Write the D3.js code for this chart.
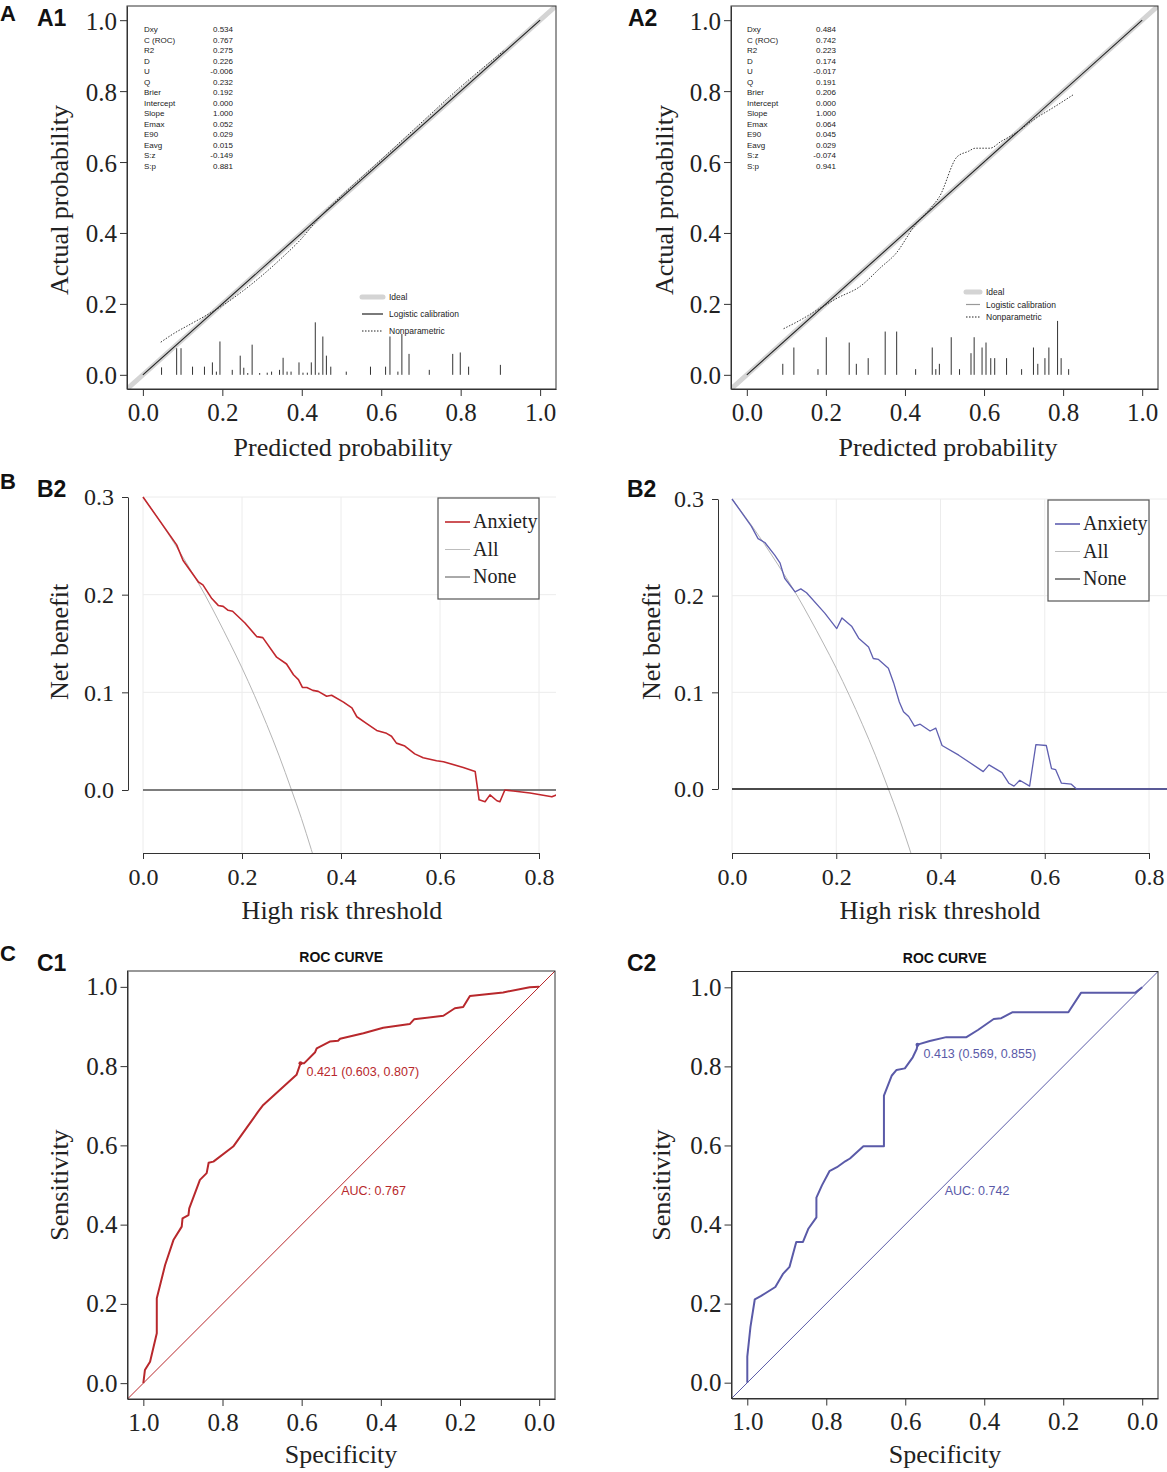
<!DOCTYPE html>
<html>
<head>
<meta charset="utf-8">
<script src="https://cdn.jsdelivr.net/npm/d3@7"></script>
<style>
body { margin:0; background:#fff; }
</style>
</head>
<body>
<script>

// ---------- values ----------

// calibration statistics (A1 / A2)
var statNames = ["Dxy","C (ROC)","R2","D","U","Q","Brier","Intercept","Slope","Emax","E90","Eavg","S:z","S:p"];
var statsA1 = ["0.534","0.767","0.275","0.226","-0.006","0.232","0.192","0.000","1.000","0.052","0.029","0.015","-0.149","0.881"];
var statsA2 = ["0.484","0.742","0.223","0.174","-0.017","0.191","0.206","0.000","1.000","0.064","0.045","0.029","-0.074","0.941"];

// spike histogram of predicted probabilities [p, height]
var rugA1 = [[0.047,0.021],[0.085,0.075],[0.096,0.075],[0.125,0.023],[0.155,0.023],[0.175,0.035],[0.185,0.009],
  [0.194,0.094],[0.225,0.014],[0.245,0.054],[0.254,0.020],[0.264,0.005],[0.275,0.085],[0.294,0.005],[0.313,0.006],
  [0.324,0.009],[0.344,0.014],[0.353,0.048],[0.363,0.009],[0.373,0.009],[0.393,0.035],[0.403,0.006],[0.414,0.006],
  [0.424,0.035],[0.434,0.148],[0.443,0.006],[0.453,0.108],[0.462,0.054],[0.473,0.023],[0.512,0.009],[0.573,0.023],
  [0.611,0.023],[0.622,0.108],[0.642,0.009],[0.652,0.115],[0.670,0.059],[0.721,0.014],[0.780,0.059],[0.799,0.063],
  [0.820,0.023],[0.900,0.028]];
var rugA2 = [[0.091,0.031],[0.119,0.077],[0.180,0.016],[0.201,0.106],[0.259,0.091],[0.277,0.031],[0.307,0.047],
  [0.350,0.122],[0.379,0.122],[0.427,0.016],[0.469,0.077],[0.478,0.016],[0.487,0.031],[0.517,0.106],[0.538,0.016],
  [0.567,0.061],[0.575,0.106],[0.595,0.077],[0.605,0.091],[0.617,0.047],[0.627,0.047],[0.657,0.047],[0.695,0.016],
  [0.725,0.077],[0.736,0.031],[0.754,0.047],[0.764,0.077],[0.786,0.152],[0.795,0.047],[0.814,0.016]];

// nonparametric (loess) calibration curves [predicted, actual]
var npA1 = [[0.045,0.092],[0.08,0.118],[0.12,0.143],[0.16,0.168],[0.2,0.195],[0.25,0.235],[0.3,0.28],[0.35,0.33],
  [0.4,0.385],[0.43,0.425],[0.46,0.462],[0.5,0.505],[0.6,0.607],[0.7,0.71],[0.8,0.812],[0.91,0.915]];
var npA2 = [[0.093,0.130],[0.138,0.156],[0.184,0.187],[0.23,0.217],[0.285,0.248],[0.34,0.304],[0.377,0.342],
  [0.423,0.418],[0.468,0.474],[0.487,0.502],[0.532,0.615],[0.56,0.63],[0.578,0.639],[0.615,0.639],[0.643,0.658],
  [0.679,0.681],[0.725,0.719],[0.78,0.757],[0.826,0.79]];
// logistic calibration line end points
var logisticLine = [[0,0],[1,1]];

// decision curves [threshold, net benefit]
var dcaLeft = [[0,0.300],[0.068,0.251],[0.081,0.235],[0.112,0.213],[0.121,0.210],[0.139,0.196],[0.152,0.189],
  [0.162,0.188],[0.172,0.184],[0.181,0.183],[0.206,0.171],[0.230,0.157],[0.242,0.156],[0.270,0.136],[0.290,0.129],
  [0.304,0.118],[0.314,0.113],[0.322,0.105],[0.331,0.105],[0.343,0.102],[0.354,0.101],[0.371,0.096],[0.381,0.097],
  [0.405,0.090],[0.422,0.084],[0.432,0.075],[0.452,0.068],[0.472,0.061],[0.492,0.058],[0.502,0.055],[0.512,0.048],
  [0.529,0.045],[0.549,0.037],[0.566,0.033],[0.593,0.030],[0.607,0.029],[0.647,0.023],[0.671,0.019],[0.679,-0.010],
  [0.691,-0.012],[0.701,-0.005],[0.715,-0.011],[0.721,-0.012],[0.731,0.000],[0.748,-0.001],[0.782,-0.003],
  [0.826,-0.007],[0.835,-0.005]];
var dcaRight = [[0,0.300],[0.037,0.272],[0.050,0.259],[0.063,0.255],[0.082,0.242],[0.092,0.234],[0.101,0.218],
  [0.121,0.204],[0.132,0.207],[0.143,0.203],[0.178,0.182],[0.201,0.166],[0.211,0.177],[0.230,0.168],[0.243,0.156],
  [0.262,0.147],[0.271,0.135],[0.281,0.134],[0.300,0.125],[0.310,0.110],[0.321,0.090],[0.329,0.080],[0.339,0.075],
  [0.350,0.065],[0.361,0.067],[0.380,0.060],[0.391,0.063],[0.403,0.045],[0.435,0.035],[0.482,0.018],[0.493,0.025],
  [0.518,0.017],[0.531,0.006],[0.541,0.003],[0.552,0.009],[0.571,0.003],[0.583,0.046],[0.603,0.045],[0.613,0.021],
  [0.621,0.020],[0.632,0.006],[0.651,0.005],[0.661,0.000],[0.840,0.000]];
// "treat all" curve
var dcaAll = [[0,0.300],[0.025,0.282],[0.05,0.263],[0.075,0.243],[0.1,0.222],[0.125,0.200],[0.15,0.176],
  [0.175,0.151],[0.2,0.125],[0.225,0.097],[0.25,0.067],[0.275,0.035],[0.3,0.000],[0.32,-0.029],[0.34,-0.061],[0.36,-0.094]];
var dcaNone = [[0,0],[0.84,0]];
var dcaLegend = ["Anxiety","All","None"];

// ROC curves [specificity, sensitivity]
var rocC1 = [[1.0,0.0],[0.996,0.033],[0.983,0.054],[0.966,0.126],[0.966,0.214],[0.945,0.298],[0.924,0.361],
  [0.903,0.395],[0.901,0.416],[0.886,0.424],[0.884,0.441],[0.857,0.513],[0.840,0.530],[0.835,0.556],[0.823,0.559],
  [0.773,0.597],[0.710,0.685],[0.697,0.702],[0.613,0.778],[0.603,0.807],[0.594,0.807],[0.566,0.835],[0.562,0.845],
  [0.529,0.862],[0.508,0.864],[0.503,0.869],[0.444,0.883],[0.394,0.897],[0.327,0.906],[0.316,0.918],[0.242,0.927],
  [0.213,0.946],[0.192,0.949],[0.175,0.977],[0.091,0.986],[0.024,0.999],[0.0,1.0]];
var rocC2 = [[1.0,0.0],[1.0,0.066],[0.992,0.141],[0.981,0.211],[0.966,0.219],[0.929,0.242],[0.909,0.276],
  [0.893,0.293],[0.876,0.356],[0.859,0.356],[0.845,0.390],[0.825,0.418],[0.825,0.468],[0.811,0.499],[0.792,0.535],
  [0.773,0.545],[0.752,0.560],[0.740,0.567],[0.706,0.598],[0.654,0.598],[0.654,0.726],[0.634,0.777],[0.622,0.791],
  [0.601,0.795],[0.581,0.823],[0.571,0.844],[0.569,0.855],[0.538,0.864],[0.496,0.874],[0.445,0.874],[0.416,0.892],
  [0.376,0.920],[0.357,0.922],[0.328,0.937],[0.187,0.937],[0.155,0.986],[0.018,0.986],[0.0,1.0]];
// best threshold (threshold, specificity, sensitivity) and AUC
var bestC1 = [0.421, 0.603, 0.807];
var bestC2 = [0.413, 0.569, 0.855];
var aucC1 = 0.767;
var aucC2 = 0.742;

// tick labels
var probTicks = [0, 0.2, 0.4, 0.6, 0.8, 1.0];
var nbTicks = [0, 0.1, 0.2, 0.3];
var thrTicks = [0, 0.2, 0.4, 0.6, 0.8];
var specTicks = [1.0, 0.8, 0.6, 0.4, 0.2, 0.0];

// ---------- drawing ----------

var SERIF = "'Liberation Serif','DejaVu Serif',serif";
var SANS = "'Liberation Sans',Arial,sans-serif";
var fmt1 = d3.format(".1f");

var svg = d3.select('body').append('svg')
    .attr('width', 1167)
    .attr('height', 1472)
    .style('background', '#fff');

function styleAxis(g, size) {
    g.selectAll('text')
        .style('font-family', SERIF)
        .style('font-size', size + 'px')
        .style('fill', '#222');
    g.selectAll('line,path').style('stroke', '#333');
}

function panelLabel(txt, x, y, size) {
    svg.append('text')
        .attr('x', x).attr('y', y)
        .text(txt)
        .style('font-family', SANS)
        .style('font-weight', 'bold')
        .style('font-size', size + 'px')
        .style('fill', '#111');
}

function yTitle(txt, x, y) {
    svg.append('text')
        .attr('transform', 'translate(' + x + ',' + y + ') rotate(-90)')
        .attr('text-anchor', 'middle')
        .text(txt)
        .style('font-family', SERIF)
        .style('font-size', '26px')
        .style('fill', '#222');
}

function xTitle(txt, x, y) {
    svg.append('text')
        .attr('x', x).attr('y', y)
        .attr('text-anchor', 'middle')
        .text(txt)
        .style('font-family', SERIF)
        .style('font-size', '26px')
        .style('fill', '#222');
}

//calibration plot
function calPlot(o) {
    var x = d3.scaleLinear().domain([-0.04, 1.04]).range([o.left, o.right]);
    var y = d3.scaleLinear().domain([-0.04, 1.04]).range([o.bottom, o.top]);

    svg.append('clipPath').attr('id', o.id + 'clip')
        .append('rect')
        .attr('x', o.left).attr('y', o.top)
        .attr('width', o.right - o.left).attr('height', o.bottom - o.top);
    var inner = svg.append('g').attr('clip-path', 'url(#' + o.id + 'clip)');

    // ideal
    inner.append('line')
        .attr('x1', x(-0.04)).attr('y1', y(-0.04))
        .attr('x2', x(1.04)).attr('y2', y(1.04))
        .style('stroke', '#d4d4d4').style('stroke-width', 5);

    var line = d3.line().x(function(d){return x(d[0])}).y(function(d){return y(d[1])});

    // logistic calibration
    inner.append('path').datum(logisticLine)
        .attr('d', line)
        .style('fill', 'none').style('stroke', '#222').style('stroke-width', 1.1);

    // nonparametric
    inner.append('path').datum(o.np)
        .attr('d', line.curve(d3.curveMonotoneX))
        .style('fill', 'none').style('stroke', '#222').style('stroke-width', 0.9)
        .style('stroke-dasharray', '1.5,1.5');

    // spikes
    inner.selectAll('line.rug')
        .data(o.rug).enter()
        .append('line').attr('class', 'rug')
        .attr('x1', function(d){return x(d[0])})
        .attr('x2', function(d){return x(d[0])})
        .attr('y1', y(0))
        .attr('y2', function(d){return y(d[1])})
        .style('stroke', '#333').style('stroke-width', 1);

    svg.append('rect')
        .attr('x', o.left).attr('y', o.top)
        .attr('width', o.right - o.left).attr('height', o.bottom - o.top)
        .style('fill', 'none').style('stroke', '#333').style('stroke-width', 1);

    var ax = svg.append('g').attr('transform', 'translate(0,' + o.bottom + ')')
        .call(d3.axisBottom(x).tickValues(probTicks).tickFormat(fmt1).tickSize(7).tickSizeOuter(0).tickPadding(7));
    styleAxis(ax, 25);
    var ay = svg.append('g').attr('transform', 'translate(' + o.left + ',0)')
        .call(d3.axisLeft(y).tickValues(probTicks).tickFormat(fmt1).tickSize(7).tickSizeOuter(0).tickPadding(3));
    styleAxis(ay, 25);
    ay.selectAll('text').attr('dy', '0.36em');

    // statistics table
    var st = svg.append('g');
    st.selectAll('text.nm')
        .data(statNames).enter().append('text').attr('class', 'nm')
        .attr('x', o.statX)
        .attr('y', function(d, i){return 32 + i * 10.5})
        .text(function(d){return d});
    st.selectAll('text.val')
        .data(o.stats).enter().append('text').attr('class', 'val')
        .attr('x', o.statX + 89)
        .attr('y', function(d, i){return 32 + i * 10.5})
        .attr('text-anchor', 'end')
        .text(function(d){return d});
    st.selectAll('text').style('font-family', SANS).style('font-size', '8px').style('fill', '#222');

    // legend
    var lg = svg.append('g');
    var items = ['Ideal', 'Logistic calibration', 'Nonparametric'];
    items.forEach(function(t, i) {
        var yy = o.legY + i * o.legGap;
        var l = lg.append('line')
            .attr('x1', o.legX).attr('x2', o.legX + o.legW)
            .attr('y1', yy).attr('y2', yy);
        if (i == 0) l.style('stroke', '#d4d4d4').style('stroke-width', 5).style('stroke-linecap', 'round');
        if (i == 1) l.style('stroke', o.logCol).style('stroke-width', 1.2);
        if (i == 2) l.style('stroke', '#222').style('stroke-width', 1).style('stroke-dasharray', '1.5,1.5');
        lg.append('text')
            .attr('x', o.legX + o.legW + 6).attr('y', yy + 3)
            .text(t)
            .style('font-family', SANS).style('font-size', '8.5px').style('fill', '#222');
    });
}

//decision curve
function dcaPlot(o) {
    var x = d3.scaleLinear().domain([0, 0.8]).range([o.x0, o.x8]);
    var y = d3.scaleLinear().domain([0, 0.3]).range([o.y0, o.y3]);
    var g = svg.append('g');

    // grid
    g.selectAll('line.vg').data(thrTicks).enter().append('line')
        .attr('x1', function(d){return x(d)}).attr('x2', function(d){return x(d)})
        .attr('y1', y(0.3)).attr('y2', o.axisY)
        .style('stroke', '#ececec').style('stroke-width', 1);
    g.selectAll('line.hg').data(nbTicks).enter().append('line')
        .attr('x1', x(0)).attr('x2', o.right)
        .attr('y1', function(d){return y(d)}).attr('y2', function(d){return y(d)})
        .style('stroke', '#ececec').style('stroke-width', 1);

    svg.append('clipPath').attr('id', o.id + 'clip')
        .append('rect')
        .attr('x', x(0) - 1).attr('y', y(0.3) - 2)
        .attr('width', o.right - x(0) + 1).attr('height', o.axisY - y(0.3) + 2);
    var inner = svg.append('g').attr('clip-path', 'url(#' + o.id + 'clip)');

    var line = d3.line().x(function(d){return x(d[0])}).y(function(d){return y(d[1])});

    inner.append('path').datum(dcaAll)
        .attr('d', line.curve(d3.curveMonotoneX))
        .style('fill', 'none').style('stroke', '#b5b5b5').style('stroke-width', 1);
    line.curve(d3.curveLinear);
    inner.append('path').datum(dcaNone)
        .attr('d', line)
        .style('fill', 'none').style('stroke', o.noneCol).style('stroke-width', 1.3);
    inner.append('path').datum(o.data)
        .attr('d', line)
        .style('fill', 'none').style('stroke', o.col).style('stroke-width', o.lw)
        .style('stroke-linejoin', 'round');

    var ax = svg.append('g').attr('transform', 'translate(0,' + o.axisY + ')')
        .call(d3.axisBottom(x).tickValues(thrTicks).tickFormat(fmt1).tickSize(6).tickSizeOuter(0).tickPadding(9));
    styleAxis(ax, 24);
    var ay = svg.append('g').attr('transform', 'translate(' + o.axisX + ',0)')
        .call(d3.axisLeft(y).tickValues(nbTicks).tickFormat(fmt1).tickSize(6).tickSizeOuter(0).tickPadding(8));
    styleAxis(ay, 24);

    // legend
    var lg = svg.append('g');
    lg.append('rect')
        .attr('x', o.legX).attr('y', y(0.3) + 1)
        .attr('width', 101).attr('height', 101)
        .style('fill', '#fff').style('stroke', '#555').style('stroke-width', 1.2);
    var cols = [o.col, '#bdbdbd', o.noneCol];
    dcaLegend.forEach(function(t, i) {
        var yy = y(0.3) + 25 + i * 27.5;
        lg.append('line')
            .attr('x1', o.legX + 7).attr('x2', o.legX + 32)
            .attr('y1', yy).attr('y2', yy)
            .style('stroke', cols[i]).style('stroke-width', i == 0 ? 1.6 : 1);
        lg.append('text')
            .attr('x', o.legX + 35).attr('y', yy + 6)
            .text(t)
            .style('font-family', SERIF).style('font-size', '20px').style('fill', '#222');
    });
}

//ROC curve
function rocPlot(o) {
    var x = d3.scaleLinear().domain([1.04, -0.04]).range([o.left, o.right]);
    var y = d3.scaleLinear().domain([-0.04, 1.04]).range([o.bottom, o.top]);

    svg.append('clipPath').attr('id', o.id + 'clip')
        .append('rect')
        .attr('x', o.left).attr('y', o.top)
        .attr('width', o.right - o.left).attr('height', o.bottom - o.top);
    var inner = svg.append('g').attr('clip-path', 'url(#' + o.id + 'clip)');

    // chance diagonal
    inner.append('line')
        .attr('x1', x(1.04)).attr('y1', y(-0.04))
        .attr('x2', x(-0.04)).attr('y2', y(1.04))
        .style('stroke', o.col).style('stroke-width', 1);

    var line = d3.line().x(function(d){return x(d[0])}).y(function(d){return y(d[1])});
    inner.append('path').datum(o.data)
        .attr('d', line)
        .style('fill', 'none').style('stroke', o.col).style('stroke-width', 2)
        .style('stroke-linejoin', 'round');

    // best threshold
    inner.append('circle')
        .attr('cx', x(o.best[1])).attr('cy', y(o.best[2])).attr('r', 2)
        .style('fill', o.col);
    svg.append('text')
        .attr('x', x(o.best[1]) + 6).attr('y', y(o.best[2]) + 13)
        .text(o.best[0].toFixed(3) + ' (' + o.best[1].toFixed(3) + ', ' + o.best[2].toFixed(3) + ')')
        .style('font-family', SANS).style('font-size', '12.5px').style('fill', o.col);
    svg.append('text')
        .attr('x', x(0.5)).attr('y', y(0.5) + 10)
        .text('AUC: ' + o.auc.toFixed(3))
        .style('font-family', SANS).style('font-size', '12.5px').style('fill', o.col);

    svg.append('rect')
        .attr('x', o.left).attr('y', o.top)
        .attr('width', o.right - o.left).attr('height', o.bottom - o.top)
        .style('fill', 'none').style('stroke', '#333').style('stroke-width', 1);

    svg.append('text')
        .attr('x', (o.left + o.right) / 2).attr('y', o.top - 9)
        .attr('text-anchor', 'middle')
        .text('ROC CURVE')
        .style('font-family', SANS).style('font-weight', 'bold').style('font-size', '14px').style('fill', '#111');

    var ax = svg.append('g').attr('transform', 'translate(0,' + o.bottom + ')')
        .call(d3.axisBottom(x).tickValues(specTicks).tickFormat(fmt1).tickSize(7).tickSizeOuter(0).tickPadding(7));
    styleAxis(ax, 25);
    var ay = svg.append('g').attr('transform', 'translate(' + o.left + ',0)')
        .call(d3.axisLeft(y).tickValues(probTicks).tickFormat(fmt1).tickSize(7).tickSizeOuter(0).tickPadding(3));
    styleAxis(ay, 25);
}

// ---- row A ----
panelLabel('A', 0, 21, 22);
panelLabel('A1', 37, 26, 23);
panelLabel('A2', 628, 26, 23);
calPlot({id: 'a1', left: 127, right: 556, top: 6, bottom: 389, rug: rugA1, np: npA1, stats: statsA1,
    statX: 144, legX: 362, legY: 297, legGap: 17, legW: 21, logCol: '#222'});
calPlot({id: 'a2', left: 731, right: 1158, top: 6, bottom: 389, rug: rugA2, np: npA2, stats: statsA2,
    statX: 747, legX: 966, legY: 292, legGap: 12.5, legW: 14, logCol: '#999'});
yTitle('Actual probability', 68, 200);
yTitle('Actual probability', 673, 200);
xTitle('Predicted probability', 343, 456);
xTitle('Predicted probability', 948, 456);

// ---- row B ----
panelLabel('B', 0, 489, 22);
panelLabel('B2', 37, 497, 23);
panelLabel('B2', 627, 497, 23);
dcaPlot({id: 'b1', x0: 143, x8: 539, y0: 790, y3: 497, axisX: 128, axisY: 853, right: 556,
    data: dcaLeft, col: '#c1272d', noneCol: '#555', lw: 1.6, legX: 438});
dcaPlot({id: 'b2', x0: 732, x8: 1149, y0: 789, y3: 499, axisX: 718, axisY: 853, right: 1167,
    data: dcaRight, col: '#5f5fb0', noneCol: '#111', lw: 1.3, legX: 1048});
yTitle('Net benefit', 68, 642);
yTitle('Net benefit', 660, 642);
xTitle('High risk threshold', 342, 919);
xTitle('High risk threshold', 940, 919);

// ---- row C ----
panelLabel('C', 0, 961, 22);
panelLabel('C1', 37, 971, 23);
panelLabel('C2', 627, 971, 23);
rocPlot({id: 'c1', left: 127.5, right: 555, top: 971, bottom: 1399, data: rocC1, best: bestC1, auc: aucC1, col: '#b8282c'});
rocPlot({id: 'c2', left: 731.5, right: 1158, top: 971.5, bottom: 1398.5, data: rocC2, best: bestC2, auc: aucC2, col: '#5a5aa8'});
yTitle('Sensitivity', 68, 1185);
yTitle('Sensitivity', 670, 1185);
xTitle('Specificity', 341, 1463);
xTitle('Specificity', 945, 1463);

</script>
</body>
</html>
